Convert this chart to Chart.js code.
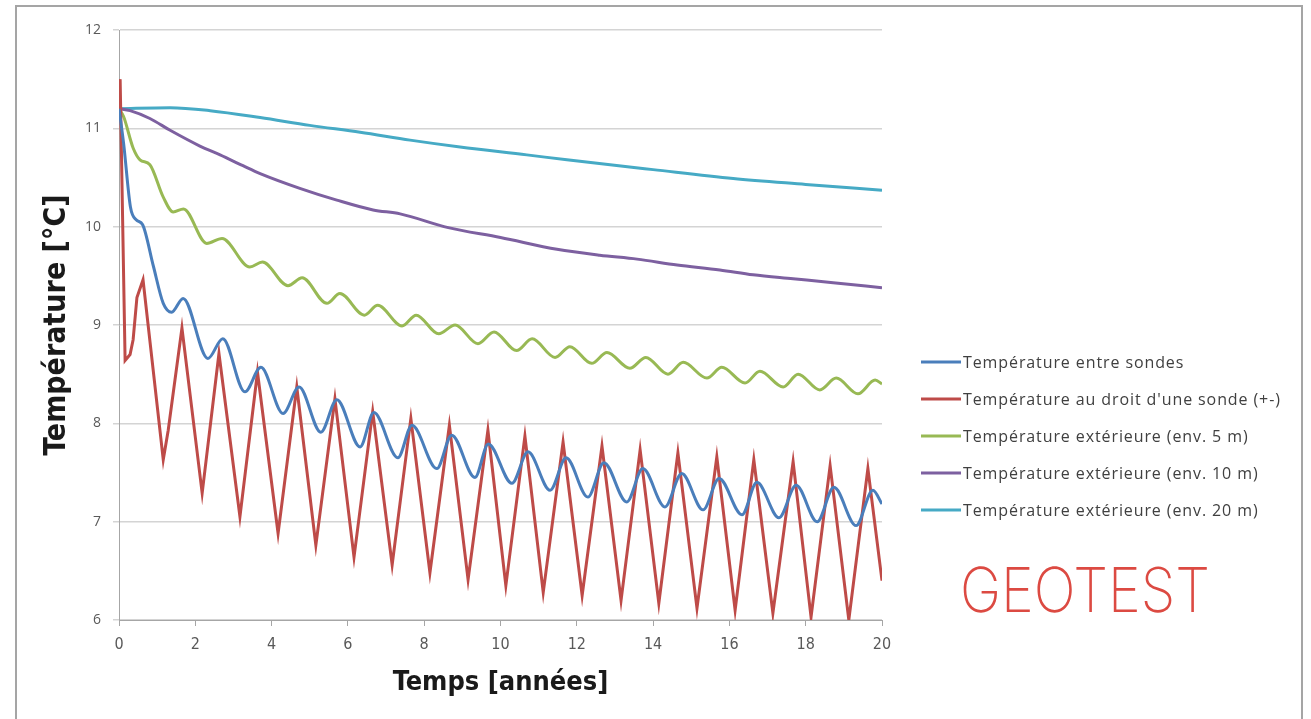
<!DOCTYPE html>
<html>
<head>
<meta charset="utf-8">
<script src="https://cdn.jsdelivr.net/npm/chart.js@4.4.1/dist/chart.umd.min.js"></script>
<style>
  body { margin: 0; background: #fff; overflow: hidden; }
  #frame { position: absolute; left: 15px; top: 5px; width: 1284px; height: 760px; border: 2px solid #a5a5a5; }
  #chart { position: absolute; left: 0; top: 0; }
</style>
</head>
<body>
<div id="frame"></div>
<canvas id="chart" width="1311" height="719"></canvas>
<script>
// values (time in years, temperature in °C)
const seriesLabels = [
  'Température entre sondes',
  "Température au droit d'une sonde (+-)",
  'Température extérieure (env. 5 m)',
  'Température extérieure (env. 10 m)',
  'Température extérieure (env. 20 m)'
];
const seriesColors = ['#4a7ebb', '#be4b48', '#98b954', '#7d60a0', '#46aac5'];

const entreT = [0, 0.12, 0.3, 0.45, 0.62, 0.9, 1.16, 1.38, 1.68, 2.33, 2.72, 3.3, 3.72, 4.3, 4.72, 5.29, 5.71, 6.32, 6.68, 7.31, 7.68, 8.33, 8.72, 9.33, 9.68, 10.3, 10.72, 11.3, 11.72, 12.29, 12.71, 13.31, 13.73, 14.31, 14.75, 15.31, 15.73, 16.33, 16.72, 17.3, 17.75, 18.3, 18.74, 19.32, 19.76, 20];
const entreV = [11.2, 10.85, 10.2, 10.07, 10.02, 9.6, 9.22, 9.13, 9.27, 8.66, 8.86, 8.32, 8.57, 8.10, 8.37, 7.91, 8.24, 7.76, 8.11, 7.65, 7.98, 7.54, 7.88, 7.45, 7.79, 7.39, 7.71, 7.32, 7.65, 7.25, 7.60, 7.20, 7.54, 7.15, 7.49, 7.12, 7.44, 7.07, 7.40, 7.04, 7.37, 7.00, 7.35, 6.96, 7.32, 7.18];

const sondeT = [0, 0.03, 0.16, 0.29, 0.37, 0.47, 0.63, 1.16, 1.29, 1.65, 2.18, 2.62, 3.17, 3.63, 4.17, 4.66, 5.16, 5.66, 6.16, 6.65, 7.16, 7.65, 8.15, 8.66, 9.15, 9.67, 10.14, 10.64, 11.12, 11.64, 12.14, 12.66, 13.16, 13.66, 14.15, 14.65, 15.15, 15.67, 16.15, 16.64, 17.14, 17.67, 18.14, 18.64, 19.13, 19.63, 20];
const sondeV = [11.2, 11.5, 8.64, 8.7, 8.85, 9.28, 9.46, 7.63, 7.93, 8.97, 7.29, 8.71, 7.05, 8.52, 6.88, 8.37, 6.76, 8.25, 6.64, 8.12, 6.56, 8.05, 6.48, 7.98, 6.41, 7.93, 6.35, 7.87, 6.28, 7.81, 6.25, 7.77, 6.20, 7.73, 6.17, 7.70, 6.12, 7.66, 6.10, 7.63, 6.07, 7.61, 6.03, 7.57, 6.0, 7.54, 6.4];

const ext5T = [0, 0.12, 0.37, 0.55, 0.81, 1.16, 1.42, 1.69, 2.3, 2.7, 3.43, 3.76, 4.43, 4.8, 5.45, 5.79, 6.43, 6.78, 7.42, 7.79, 8.38, 8.81, 9.41, 9.83, 10.42, 10.83, 11.43, 11.82, 12.39, 12.79, 13.39, 13.81, 14.39, 14.79, 15.41, 15.8, 16.41, 16.8, 17.41, 17.8, 18.37, 18.8, 19.37, 19.82, 20];
const ext5V = [11.2, 11.12, 10.8, 10.68, 10.63, 10.3, 10.15, 10.18, 9.83, 9.88, 9.59, 9.64, 9.4, 9.48, 9.22, 9.32, 9.1, 9.2, 8.99, 9.1, 8.91, 9.0, 8.81, 8.93, 8.74, 8.86, 8.67, 8.78, 8.61, 8.72, 8.56, 8.67, 8.5, 8.62, 8.46, 8.57, 8.41, 8.53, 8.37, 8.5, 8.34, 8.46, 8.30, 8.44, 8.4];

const ext10T = [0, 0.29, 0.81, 1.34, 2.12, 2.65, 3.25, 3.7, 4.74, 5.71, 6.66, 7.37, 8.63, 10, 11.48, 12.6, 13.58, 14.63, 15.75, 16.62, 17.67, 18.72, 20];
const ext10V = [11.2, 11.18, 11.1, 10.98, 10.82, 10.73, 10.62, 10.54, 10.39, 10.27, 10.17, 10.13, 9.99, 9.89, 9.77, 9.71, 9.67, 9.61, 9.56, 9.51, 9.47, 9.43, 9.38];

const ext20T = [0, 1.34, 2.39, 3.7, 5.0, 6.32, 7.63, 8.94, 10.69, 11.74, 14, 16.1, 18, 20];
const ext20V = [11.2, 11.21, 11.18, 11.11, 11.03, 10.96, 10.88, 10.81, 10.73, 10.68, 10.58, 10.49, 10.43, 10.37];

const seriesT = [entreT, sondeT, ext5T, ext10T, ext20T];
const seriesV = [entreV, sondeV, ext5V, ext10V, ext20V];

const narrowFont = "'Liberation Sans Narrow', 'DejaVu Sans Condensed', 'Arial Narrow', sans-serif";

const datasets = seriesLabels.map((label, i) => ({
  label: label,
  data: seriesT[i].map((t, j) => ({ x: t, y: seriesV[i][j] })),
  borderColor: seriesColors[i],
  backgroundColor: seriesColors[i],
  borderWidth: 3,
  pointRadius: 0,
  fill: false,
  cubicInterpolationMode: i === 1 ? 'default' : 'monotone',
  tension: 0
}));

// legend and logo drawn to the right of the plot
const sideLegend = {
  id: 'sideLegend',
  afterDraw(chart) {
    const ctx = chart.ctx;
    ctx.save();
    ctx.font = "16px 'Open Sans', sans-serif";
    ctx.letterSpacing = '0.9px';
    ctx.textBaseline = 'middle';
    chart.data.datasets.forEach((ds, i) => {
      const y = 362 + i * 37;
      ctx.strokeStyle = ds.borderColor;
      ctx.lineWidth = 3;
      ctx.beginPath();
      ctx.moveTo(921, y);
      ctx.lineTo(961, y);
      ctx.stroke();
      ctx.fillStyle = '#404040';
      ctx.fillText(ds.label, 963, y + 1);
    });

    // GEOTEST logo, squeezed to the width seen in the reference
    ctx.letterSpacing = '0px';
    ctx.font = "200 62px Inter, 'Noto Sans', sans-serif";
    ctx.fillStyle = '#dc4a42';
    ctx.textBaseline = 'alphabetic';
    const w = ctx.measureText('GEOTEST').width;
    ctx.translate(960, 612);
    ctx.scale(250 / w, 1);
    ctx.fillText('GEOTEST', 0, 0);
    ctx.restore();
  }
};

new Chart(document.getElementById('chart'), {
  type: 'line',
  data: { datasets: datasets },
  options: {
    responsive: false,
    animation: false,
    layout: { padding: { left: 35, right: 429, top: 30, bottom: 16 } },
    plugins: {
      legend: { display: false },
      tooltip: { enabled: false }
    },
    scales: {
      x: {
        type: 'linear',
        min: 0,
        max: 20,
        ticks: { stepSize: 2, color: '#595959', padding: 9, font: { family: narrowFont, size: 16 } },
        grid: { drawOnChartArea: false, drawTicks: true, tickLength: 6, color: '#a6a6a6' },
        border: { color: '#a6a6a6' },
        title: { display: true, text: 'Temps [années]', color: '#1a1a1a', font: { family: narrowFont, size: 27, weight: 'bold' } },
        afterFit(scale) { scale.height = 83; }
      },
      y: {
        min: 6,
        max: 12,
        ticks: { stepSize: 1, color: '#595959', padding: 12, font: { family: "'Open Sans', sans-serif", size: 14 } },
        grid: { color: '#d4d4d4', tickLength: 6, lineWidth: 1.5 },
        border: { color: '#a6a6a6' },
        title: { display: true, text: 'Température [°C]', color: '#1a1a1a', font: { family: narrowFont, size: 30, weight: 'bold' } },
        afterFit(scale) { scale.width = 84; }
      }
    }
  },
  plugins: [sideLegend]
});
</script>
</body>
</html>
